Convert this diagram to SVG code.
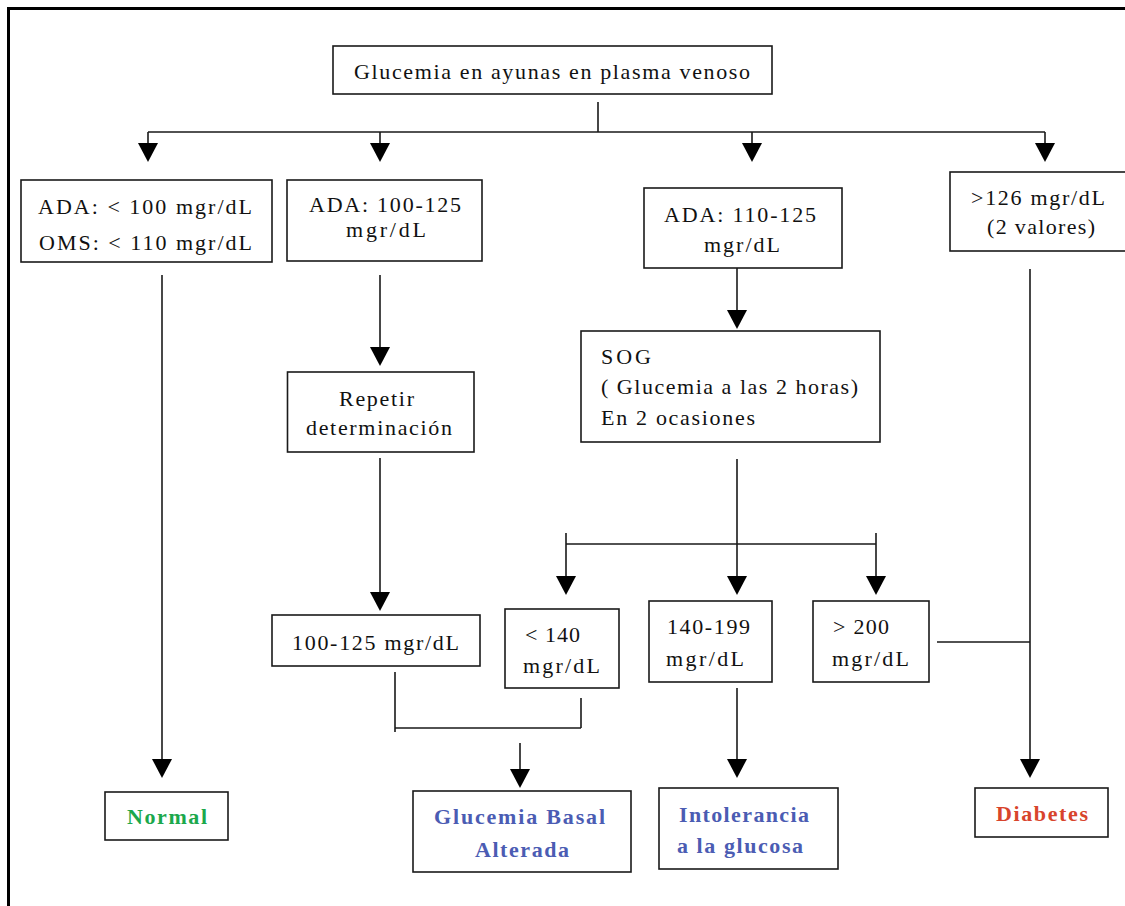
<svg xmlns="http://www.w3.org/2000/svg" width="1125" height="906" viewBox="0 0 1125 906">
  <style>
    .box { fill: #ffffff; stroke: #1a1a1a; stroke-width: 1.6; }
    .t { font-family: "Liberation Serif", "Times New Roman", serif; font-size: 22px; fill: #111111; }
    .b { font-family: "Liberation Serif", "Times New Roman", serif; font-size: 22px; font-weight: bold; }
    .green { fill: #1ba84c; }
    .blue { fill: #4b5cb3; }
    .red { fill: #d8442c; }
    .ln { fill: none; stroke: #1a1a1a; stroke-width: 1.6; }
    .frame { fill: none; stroke: #000000; stroke-width: 3; }
  </style>
  <defs>
    <!-- filled downward arrowhead, tip at the origin -->
    <polygon id="head" points="-10,-19 10,-19 0,0" fill="#000000"/>
  </defs>

  <rect width="1125" height="906" fill="#ffffff"/>
  <path class="frame" d="M8.5,906 V8.5 H1125"/>

  <g id="connectors">
    <!-- fan-out from the fasting glucose test -->
    <path class="ln" d="M598,102 V132 M148,132 H1045 M148,132 V150 M380,132 V150 M752,132 V150 M1045,132 V150"/>
    <use href="#head" x="148" y="162"/>
    <use href="#head" x="380" y="162"/>
    <use href="#head" x="752" y="162"/>
    <use href="#head" x="1045" y="162"/>
    <!-- normal branch -->
    <path class="ln" d="M162,275 V765"/>
    <use href="#head" x="162" y="778"/>
    <!-- ADA 100-125 -> repeat -->
    <path class="ln" d="M380,275 V355"/>
    <use href="#head" x="380" y="366"/>
    <!-- repeat -> 100-125 -->
    <path class="ln" d="M380,458 V600"/>
    <use href="#head" x="380" y="611"/>
    <!-- ADA 110-125 -> SOG -->
    <path class="ln" d="M737,268 V318"/>
    <use href="#head" x="737" y="329"/>
    <!-- SOG -> three outcomes -->
    <path class="ln" d="M737,459 V582 M566,544 H876 M566,533 V582 M876,533 V582"/>
    <use href="#head" x="566" y="595"/>
    <use href="#head" x="737" y="595"/>
    <use href="#head" x="876" y="595"/>
    <!-- 100-125 and <140 join -> basal glucose -->
    <path class="ln" d="M395,672 V732 M395,728 H581 M581,698 V728"/>
    <path class="ln" d="M520,743 V775"/>
    <use href="#head" x="520" y="788"/>
    <!-- 140-199 -> intolerance -->
    <path class="ln" d="M737,688 V765"/>
    <use href="#head" x="737" y="778"/>
    <!-- >200 and >126 -> diabetes -->
    <path class="ln" d="M937,642 H1030 M1030,269 V765"/>
    <use href="#head" x="1030" y="778"/>
  </g>

  <g id="n-ayunas">
    <rect class="box" x="333" y="46" width="439" height="48"/>
    <text class="t" x="354" y="79" textLength="396" lengthAdjust="spacing">Glucemia en ayunas en plasma venoso</text>
  </g>

  <g id="n-ada100">
    <rect class="box" x="21" y="180" width="251" height="82"/>
    <text class="t" x="38" y="214" textLength="214" lengthAdjust="spacing">ADA: &lt; 100 mgr/dL</text>
    <text class="t" x="39" y="250" textLength="213" lengthAdjust="spacing">OMS: &lt; 110 mgr/dL</text>
  </g>

  <g id="n-ada100-125">
    <rect class="box" x="287" y="180" width="195" height="81"/>
    <text class="t" x="309" y="212" textLength="152" lengthAdjust="spacing">ADA: 100-125</text>
    <text class="t" x="346" y="237" textLength="80" lengthAdjust="spacing">mgr/dL</text>
  </g>

  <g id="n-ada110-125">
    <rect class="box" x="644" y="188" width="198" height="80"/>
    <text class="t" x="664" y="222" textLength="152" lengthAdjust="spacing">ADA: 110-125</text>
    <text class="t" x="704" y="252" textLength="76" lengthAdjust="spacing">mgr/dL</text>
  </g>

  <g id="n-126">
    <rect class="box" x="950" y="172" width="190" height="79"/>
    <text class="t" x="971" y="205" textLength="134" lengthAdjust="spacing">&gt;126 mgr/dL</text>
    <text class="t" x="987" y="234" textLength="108" lengthAdjust="spacing">(2 valores)</text>
  </g>

  <g id="n-repetir">
    <rect class="box" x="287.5" y="372" width="186.5" height="80"/>
    <text class="t" x="339" y="406" textLength="75" lengthAdjust="spacing">Repetir</text>
    <text class="t" x="306" y="435" textLength="146" lengthAdjust="spacing">determinación</text>
  </g>

  <g id="n-sog">
    <rect class="box" x="581" y="331" width="299" height="111"/>
    <text class="t" x="601" y="364" textLength="50" lengthAdjust="spacing">SOG</text>
    <text class="t" x="601" y="394" textLength="257" lengthAdjust="spacing">( Glucemia a las 2 horas)</text>
    <text class="t" x="601" y="425" textLength="154" lengthAdjust="spacing">En 2 ocasiones</text>
  </g>

  <g id="n-100-125">
    <rect class="box" x="272" y="615" width="208" height="51"/>
    <text class="t" x="292" y="650" textLength="167" lengthAdjust="spacing">100-125 mgr/dL</text>
  </g>

  <g id="n-lt140">
    <rect class="box" x="505" y="609" width="114" height="79"/>
    <text class="t" x="525" y="642" textLength="55" lengthAdjust="spacing">&lt; 140</text>
    <text class="t" x="523" y="673" textLength="77" lengthAdjust="spacing">mgr/dL</text>
  </g>

  <g id="n-140-199">
    <rect class="box" x="649" y="601" width="123" height="81"/>
    <text class="t" x="667" y="634" textLength="83" lengthAdjust="spacing">140-199</text>
    <text class="t" x="666" y="666" textLength="78" lengthAdjust="spacing">mgr/dL</text>
  </g>

  <g id="n-gt200">
    <rect class="box" x="813" y="601" width="116" height="81"/>
    <text class="t" x="833" y="634" textLength="56" lengthAdjust="spacing">&gt; 200</text>
    <text class="t" x="832" y="666" textLength="77" lengthAdjust="spacing">mgr/dL</text>
  </g>

  <g id="n-normal">
    <rect class="box" x="105" y="792" width="123" height="48"/>
    <text class="b green" x="127" y="824" textLength="80" lengthAdjust="spacing">Normal</text>
  </g>

  <g id="n-basal">
    <rect class="box" x="413" y="791" width="218" height="81"/>
    <text class="b blue" x="434" y="824" textLength="171" lengthAdjust="spacing">Glucemia Basal</text>
    <text class="b blue" x="475" y="857" textLength="94" lengthAdjust="spacing">Alterada</text>
  </g>

  <g id="n-intolerancia">
    <rect class="box" x="659" y="788" width="179" height="81"/>
    <text class="b blue" x="679" y="822" textLength="130" lengthAdjust="spacing">Intolerancia</text>
    <text class="b blue" x="677" y="853" textLength="126" lengthAdjust="spacing">a la glucosa</text>
  </g>

  <g id="n-diabetes">
    <rect class="box" x="975" y="788" width="133" height="49"/>
    <text class="b red" x="996" y="821" textLength="92" lengthAdjust="spacing">Diabetes</text>
  </g>
</svg>
